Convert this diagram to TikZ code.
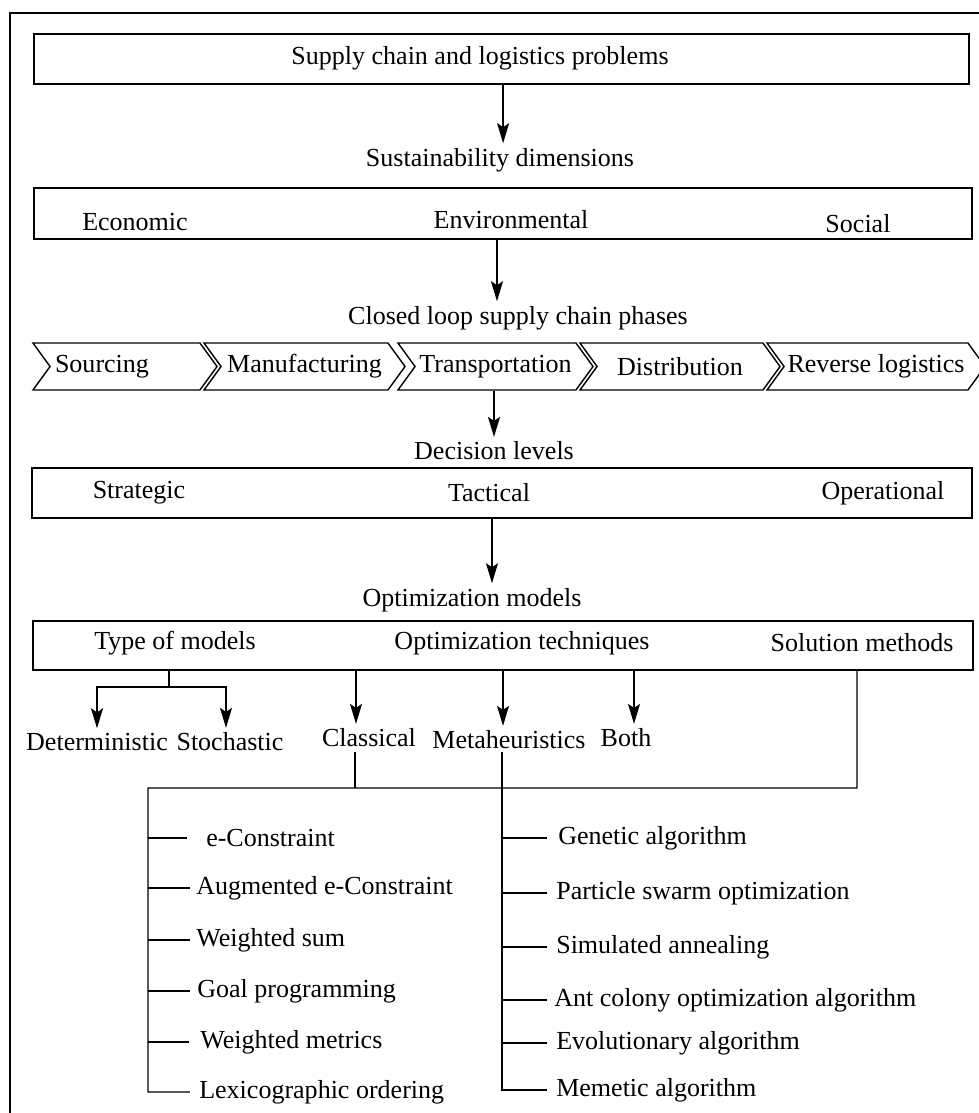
\documentclass[tikz,border=0pt]{standalone}
\usepackage{fontspec}
\setmainfont{Liberation Serif}
\usetikzlibrary{positioning}
\usetikzlibrary{arrows.meta}
\usetikzlibrary{shapes.symbols}
\def\txtFont{\fontsize{18.5}{21}\selectfont}
\tikzset{% flow chart styles
  box/.style    = {draw, rectangle, line width=1.3pt, inner sep=0},
  chev/.style   = {draw, signal, signal from=west, signal to=east,
    signal pointer angle=108, line width=1pt, minimum height=1.175cm, inner sep=0},
  arr/.style    = {-{Stealth[length=0.5cm, width=0.3cm, inset=0.1cm]}, line width=1pt},
  branch/.style = {line width=1pt},
  item/.style   = {anchor=west, inner xsep=0},
}

\begin{document}
\begin{tikzpicture}[x=0.025cm, y=-0.025cm, font=\txtFont]
      \useasboundingbox (0,0) rectangle (979,1113);
      % outer frame
      \draw[line width=1.3pt] (990,13) -- (10,13) -- (10,1125);

      % Problems
      \node[box, minimum width=23.375cm, minimum height=1.25cm] (Problems) at (501.5,59) {};
      \node (ProblemsT) at (480,58) {Supply chain and logistics problems};
      \node (Dimensions) at (500,160) {Sustainability dimensions};
      \draw[arr] ([xshift=0.04cm]Problems.south) -- ([xshift=0.04cm]Problems.south |- Dimensions.north);

      % Sustainability dimensions
      \node[box, minimum width=23.45cm, minimum height=1.275cm] (Dims) at (503,213.5) {};
      \node (Economic) at (135,222) {Economic};
      \node (Environmental) at (511,220) {Environmental};
      \node (Social) at (858,224) {Social};
      \node (Phases) at (518,318) {Closed loop supply chain phases};
      \draw[arr] ([xshift=-0.15cm]Dims.south) -- ([xshift=-0.15cm]Dims.south |- Phases.north);

      % Closed loop phases
      \node[chev, minimum width=4.6cm] (Sourcing) at (125,366.5) {Sourcing\hspace*{1.15cm}};
      \node[chev, minimum width=5.025cm] (Manufacturing) at (304.5,366.5) {Manufacturing};
      \node[chev, minimum width=4.875cm] (Transportation) at (495.5,366.5) {Transportation};
      \node[chev, minimum width=5cm] (Distribution) at (680,366.5) {Distribution};
      \node[chev, minimum width=5.45cm] (Reverse) at (876,366.5) {Reverse logistics};
      \node (Decision) at (494,451) {Decision levels};
      \draw[arr] (Decision.north |- Transportation.south) -- (Decision.north);

      % Decision levels
      \node[box, minimum width=23.5cm, minimum height=1.25cm] (Levels) at (502,493) {};
      \node (Strategic) at (139,493) {Strategic};
      \node (Tactical) at (489,493) {Tactical};
      \node (Operational) at (883,493) {Operational};
      \node (OptModels) at (472,600) {Optimization models};
      \draw[arr] ([xshift=-0.25cm]Levels.south) -- ([xshift=-0.25cm]Levels.south |- OptModels.north);

      % Optimization models
      \node[box, minimum width=23.5cm, minimum height=1.225cm] (Models) at (503,645.5) {};
      \node (TypeT) at (175,643) {Type of models};
      \node (TechT) at (522,643) {Optimization techniques};
      \node (SolT) at (862,643) {Solution methods};

      \node (Determ) at (97,742) {Deterministic};
      \node (Stoch) at (230,742) {Stochastic};
      \node (Classical) at (369,738) {Classical};
      \node (Meta) at (509,740) {Metaheuristics};
      \node (Both) at (626,738) {Both};

      \coordinate (TypeFork) at (169,687);
      \draw[branch] (TypeFork |- Models.south) -- (TypeFork);
      \draw[arr] (TypeFork) -| (Determ.north);
      \draw[arr] (TypeFork) -| ([xshift=-0.1cm]Stoch.north);
      \draw[arr] ([xshift=-0.325cm]Classical.north |- Models.south) -- ([xshift=-0.325cm]Classical.north);
      \draw[arr] ([xshift=-0.15cm]Meta.north |- Models.south) -- ([xshift=-0.15cm]Meta.north);
      \draw[arr] ([xshift=0.2cm]Both.north |- Models.south) -- ([xshift=0.2cm]Both.north);

      % Solution methods
      \coordinate (TrunkL) at (148,788);
      \coordinate (TrunkR) at (857,788);
      \coordinate (MetaTop) at (502,752);

      \node[item] (EConstr) at (206,838) {e-Constraint};
      \node[item] (Augmented) at (196,888) {Augmented e-Constraint};
      \node[item] (WSum) at (196,940) {Weighted sum};
      \node[item] (Goal) at (197,991) {Goal programming};
      \node[item] (WMetrics) at (200,1042) {Weighted metrics};
      \node[item] (Lexico) at (199,1092) {Lexicographic ordering};

      \node[item] (Genetic) at (558,838) {Genetic algorithm};
      \node[item] (Particle) at (556,893) {Particle swarm optimization};
      \node[item] (Annealing) at (556,947) {Simulated annealing};
      \node[item] (AntColony) at (554,1000) {Ant colony optimization algorithm};
      \node[item] (Evolution) at (556,1043) {Evolutionary algorithm};
      \node[item] (Memetic) at (556,1090) {Memetic algorithm};

      \draw[branch] ([xshift=-0.35cm]Classical.south) -- ([xshift=-0.35cm]Classical.south |- TrunkL);
      \draw[branch, shorten >=0.225cm] ([xshift=-0.125cm]SolT.south |- Models.south) -- (TrunkR) -- (TrunkL)
        -- (TrunkL |- Lexico.west) -- (Lexico.west);
      \draw[branch, shorten >=0.225cm] (MetaTop) -- (MetaTop |- Memetic.west) -- (Memetic.west);

      \draw[branch, shorten >=0.475cm] (TrunkL |- EConstr.west) -- (EConstr.west);
      \draw[branch, shorten >=0.15cm] (TrunkL |- Augmented.west) -- (Augmented.west);
      \draw[branch, shorten >=0.15cm] (TrunkL |- WSum.west) -- (WSum.west);
      \draw[branch, shorten >=0.175cm] (TrunkL |- Goal.west) -- (Goal.west);
      \draw[branch, shorten >=0.275cm] (TrunkL |- WMetrics.west) -- (WMetrics.west);

      \draw[branch, shorten >=0.275cm] (MetaTop |- Genetic.west) -- (Genetic.west);
      \draw[branch, shorten >=0.225cm] (MetaTop |- Particle.west) -- (Particle.west);
      \draw[branch, shorten >=0.225cm] (MetaTop |- Annealing.west) -- (Annealing.west);
      \draw[branch, shorten >=0.175cm] (MetaTop |- AntColony.west) -- (AntColony.west);
      \draw[branch, shorten >=0.225cm] (MetaTop |- Evolution.west) -- (Evolution.west);
\end{tikzpicture}
\end{document}
